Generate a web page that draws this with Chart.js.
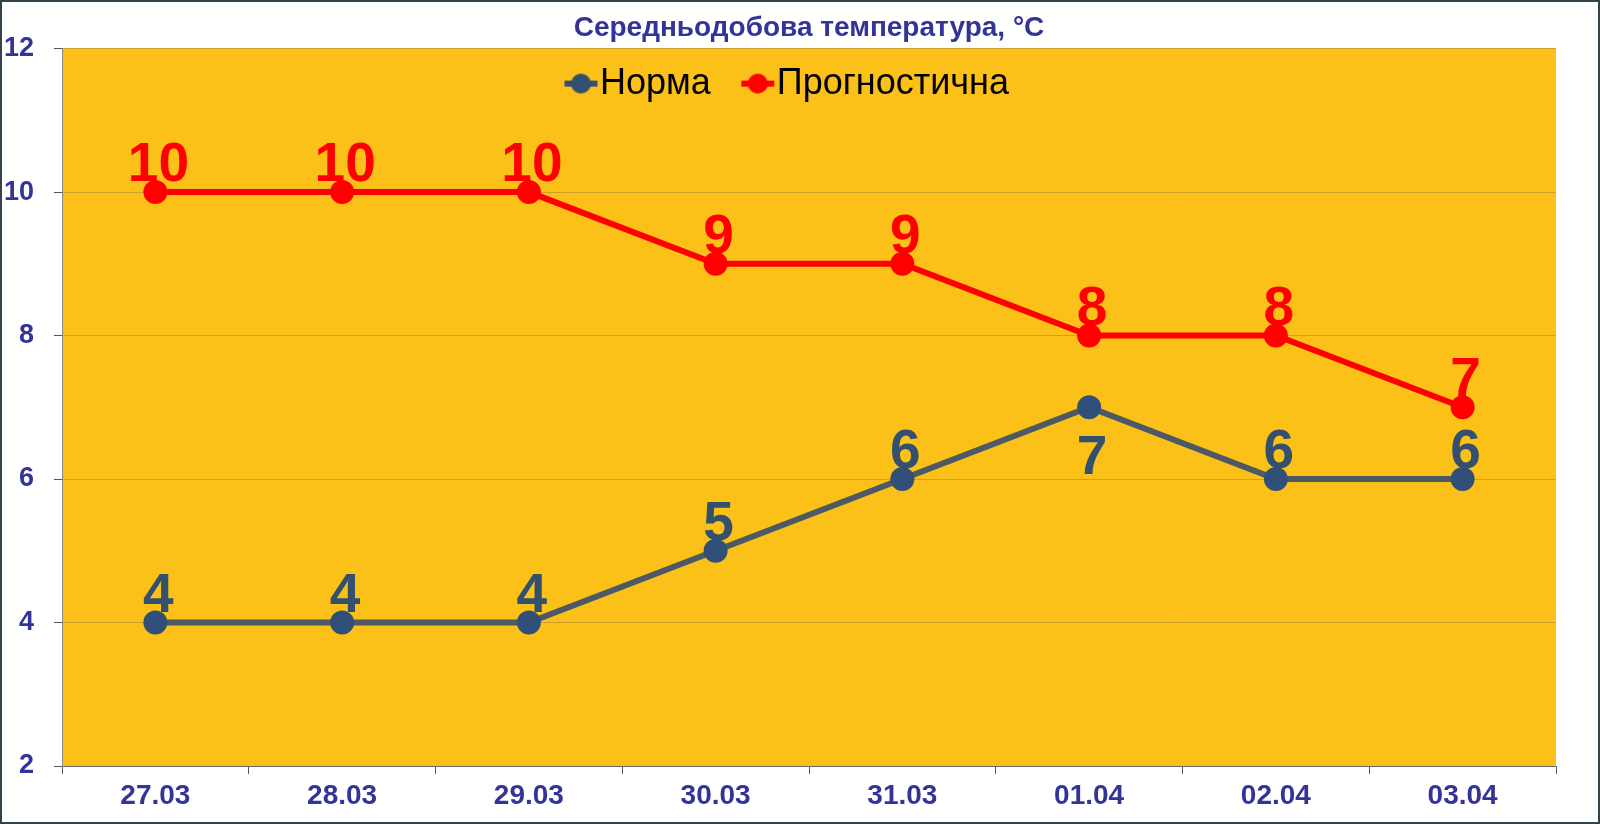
<!DOCTYPE html>
<html>
<head>
<meta charset="utf-8">
<script src="https://cdn.jsdelivr.net/npm/chart.js@4/dist/chart.umd.min.js"></script>
<style>
  html, body { margin: 0; padding: 0; background: #fff; }
  #frame {
    width: 1600px; height: 824px; box-sizing: border-box;
    border: 2px solid #34444c; background: #fff;
  }
  #box { position: relative; width: 1596px; height: 820px; }
</style>
</head>
<body>
<div id="frame"><div id="box"><canvas id="myChart"></canvas></div></div>
<script>
// dates on the x axis
const days = ["27.03", "28.03", "29.03", "30.03", "31.03", "01.04", "02.04", "03.04"];

// average daily temperature, climate norm
const normValues = [4, 4, 4, 5, 6, 7, 6, 6];

// average daily temperature, forecast
const forecastValues = [10, 10, 10, 9, 9, 8, 8, 7];

// y ticks
const yTicks = [2, 4, 6, 8, 10, 12];

const FONT = "'Liberation Sans', Arial, sans-serif";
const TEXT_BLUE = "#333399";

Chart.defaults.font.family = FONT;

// legend marker: short line with a dot, as in office charts
const makeMarker = (color) => {
  const c = document.createElement("canvas");
  c.width = 64;
  c.height = 24;
  const g = c.getContext("2d");
  g.strokeStyle = color;
  g.lineWidth = 6;
  g.beginPath();
  g.moveTo(30, 12);
  g.lineTo(63, 12);
  g.stroke();
  g.fillStyle = color;
  g.beginPath();
  g.arc(46.5, 12, 10, 0, Math.PI * 2);
  g.fill();
  return c;
};
const legendMarkers = [makeMarker("#34506f"), makeMarker("#ff0000")];

// yellow plot background
const plotBackground = {
  id: "plotBackground",
  beforeDraw(chart) {
    const { ctx, chartArea: a } = chart;
    ctx.save();
    ctx.fillStyle = "#fbc119";
    ctx.fillRect(a.left, a.top, a.right - a.left, a.bottom - a.top);
    ctx.restore();
  },
};

// legend sits inside the plot, so it takes no room in the layout
const legendInside = {
  id: "legendInside",
  afterInit(chart) {
    const legend = chart.legend;
    const fit = legend.fit;
    legend.fit = function () {
      fit.call(this);
      this._realHeight = this.height;
      this.height = 0;
    };
  },
  afterLayout(chart) {
    // give the legend its height back so it is not clipped away
    const legend = chart.legend;
    legend.height = legend._realHeight;
    legend.bottom = legend.top + legend._realHeight;
    // centre the title over the plot
    const t = chart.titleBlock;
    t.left = chart.chartArea.left;
    t.right = chart.chartArea.right;
  },
};

// big value labels next to each point
const valueLabels = {
  id: "valueLabels",
  afterDatasetsDraw(chart) {
    const ctx = chart.ctx;
    ctx.save();
    ctx.font = "bold 55px " + FONT;
    ctx.textAlign = "center";
    ctx.textBaseline = "alphabetic";
    chart.data.datasets.forEach((ds, i) => {
      const meta = chart.getDatasetMeta(i);
      ctx.fillStyle = ds.labelColor;
      meta.data.forEach((pt, j) => {
        const below = (ds.labelBelow || []).includes(j);
        const y = below ? pt.y + 67 : pt.y - 11;
        ctx.fillText(String(ds.data[j]), pt.x + 3, y);
      });
    });
    ctx.restore();
  },
};

const ctx = document.getElementById("myChart").getContext("2d");
const myChart = new Chart(ctx, {
  type: "line",
  data: {
    labels: days,
    datasets: [
      {
        label: "Норма",
        data: normValues,
        borderColor: "#4d5a66",
        backgroundColor: "#34506f",
        pointBackgroundColor: "#30507a",
        pointBorderColor: "#30507a",
        borderWidth: 6,
        pointRadius: 9,
        pointHoverRadius: 9,
        labelColor: "#34506f",
        labelBelow: [5],
      },
      {
        label: "Прогностична",
        data: forecastValues,
        borderColor: "#ff0000",
        backgroundColor: "#ff0000",
        pointBackgroundColor: "#ff0000",
        pointBorderColor: "#ff0000",
        borderWidth: 6,
        pointRadius: 9,
        pointHoverRadius: 9,
        labelColor: "#ff0000",
      },
    ],
  },
  options: {
    responsive: true,
    maintainAspectRatio: false,
    animation: false,
    layout: { padding: { left: 2, right: 42, top: 0, bottom: 0 } },
    plugins: {
      title: {
        display: true,
        text: "Середньодобова температура, °C",
        color: TEXT_BLUE,
        font: { size: 28, weight: "bold" },
        padding: { top: 9, bottom: 4 },
      },
      legend: {
        position: "top",
        align: "center",
        labels: {
          color: "#000",
          font: { size: 36 },
          usePointStyle: true,
          pointStyleWidth: 31,
          padding: 17,
          generateLabels(chart) {
            const items = Chart.defaults.plugins.legend.labels.generateLabels(chart);
            items.forEach((it, i) => { it.pointStyle = legendMarkers[i]; });
            return items;
          },
        },
      },
      tooltip: { enabled: false },
    },
    scales: {
      x: {
        offset: true,
        afterFit(axis) { axis.height = 56; },
        grid: {
          display: true,
          offset: true,
          drawOnChartArea: false,
          drawTicks: true,
          tickLength: 8,
          tickColor: "#555",
        },
        border: { color: "#6a6a6a", width: 1 },
        ticks: {
          color: TEXT_BLUE,
          font: { size: 28, weight: "bold" },
          padding: 5,
          maxRotation: 0,
        },
      },
      y: {
        min: yTicks[0],
        max: yTicks[yTicks.length - 1],
        afterBuildTicks(axis) {
          axis.ticks = yTicks.map((v) => ({ value: v }));
        },
        afterFit(axis) { axis.width = 58; },
        grid: {
          color: "#cfa027",
          lineWidth: 1,
          tickLength: 8,
          tickColor: "#555",
        },
        border: { color: "#8a8a8a", width: 1 },
        ticks: {
          color: TEXT_BLUE,
          font: { size: 27, weight: "bold" },
          padding: 20,
        },
      },
    },
  },
  plugins: [plotBackground, legendInside, valueLabels],
});
</script>
</body>
</html>
